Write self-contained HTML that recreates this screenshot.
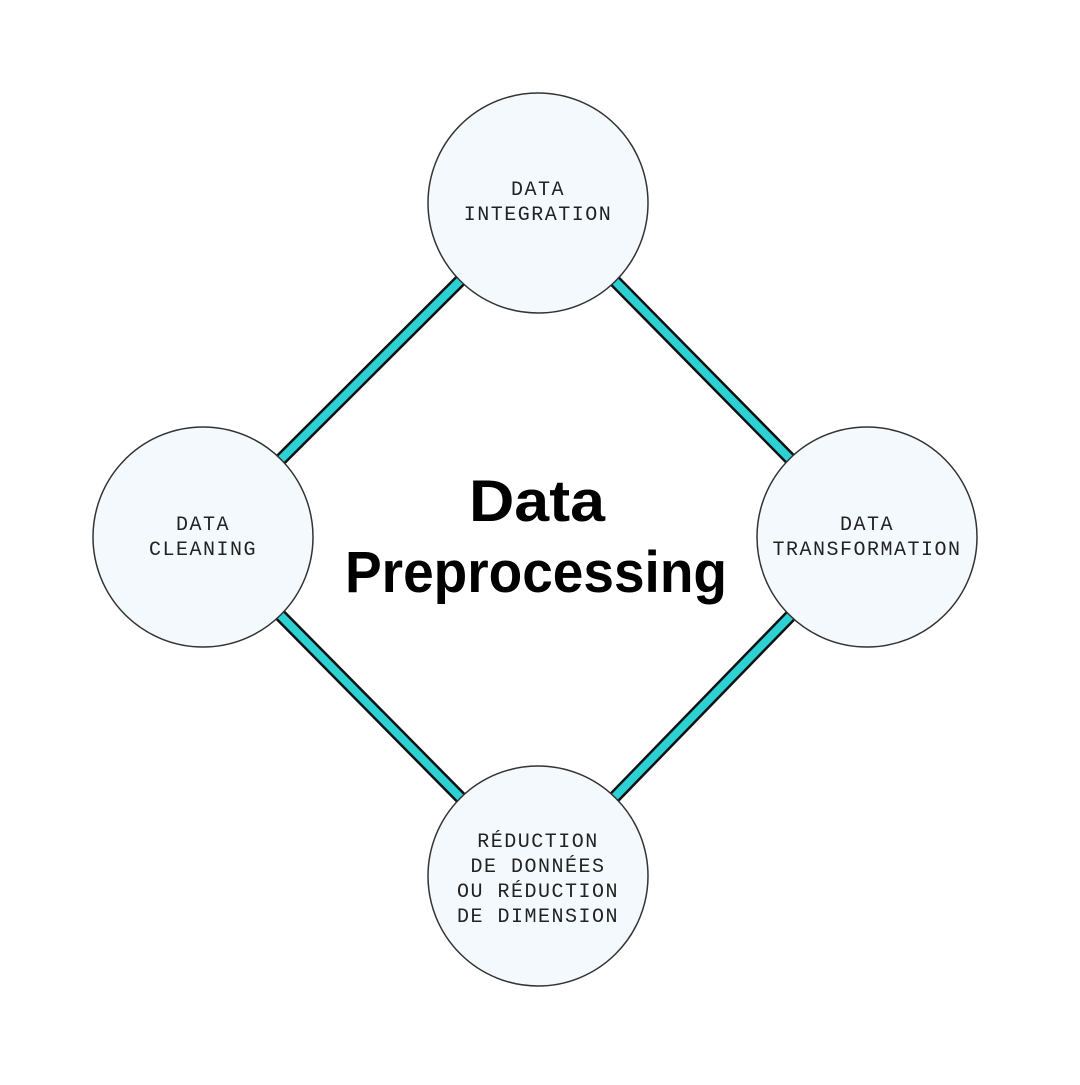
<!DOCTYPE html>
<html><head><meta charset="utf-8"><style>html,body{margin:0;padding:0;background:#fff}</style></head>
<body>
<svg width="1080" height="1080" viewBox="0 0 1080 1080" xmlns="http://www.w3.org/2000/svg">
<g stroke-linecap="butt">
<g stroke="#111" stroke-width="13">
<line x1="538" y1="203" x2="203" y2="537"/><line x1="538" y1="203" x2="867" y2="537"/>
<line x1="203" y1="537" x2="538" y2="876"/><line x1="867" y1="537" x2="538" y2="876"/>
</g>
<g stroke="#2dd1d4" stroke-width="8">
<line x1="538" y1="203" x2="203" y2="537"/><line x1="538" y1="203" x2="867" y2="537"/>
<line x1="203" y1="537" x2="538" y2="876"/><line x1="867" y1="537" x2="538" y2="876"/>
</g>
</g>
<g fill="#f4f9fd" stroke="#333" stroke-width="1.5">
<circle cx="538" cy="203" r="110"/><circle cx="203" cy="537" r="110"/>
<circle cx="867" cy="537" r="110"/><circle cx="538" cy="876" r="110"/>
</g>
<g font-family="Liberation Mono, monospace" font-size="20" fill="#222" text-anchor="middle" letter-spacing="1.5">
<text x="538" y="195">DATA</text><text x="538" y="220">INTEGRATION</text>
<text x="203" y="530">DATA</text><text x="203" y="555">CLEANING</text>
<text x="867" y="530">DATA</text><text x="867" y="555">TRANSFORMATION</text>
<text x="538" y="847">RÉDUCTION</text><text x="538" y="872">DE DONNÉES</text>
<text x="538" y="897">OU RÉDUCTION</text><text x="538" y="922">DE DIMENSION</text>
</g>
<g font-family="Liberation Sans, sans-serif" font-weight="bold" font-size="58" fill="#000" text-anchor="middle">
<text x="537" y="521" textLength="136" lengthAdjust="spacingAndGlyphs">Data</text>
<text x="536" y="592" textLength="382" lengthAdjust="spacingAndGlyphs">Preprocessing</text>
</g>
</svg>
</body></html>
